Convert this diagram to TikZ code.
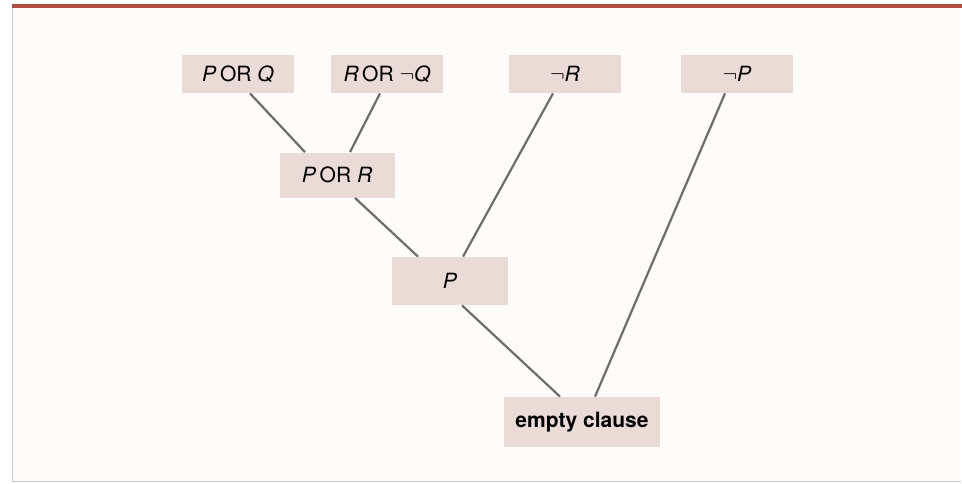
\documentclass[tikz,border=0pt]{standalone}
\usepackage{fontspec}
\setmainfont{TeX Gyre Heros}
\usetikzlibrary{calc}
\definecolor{Clause}{RGB}{234,219,215}
\definecolor{Edge}{RGB}{112,108,108}
\definecolor{Rule}{RGB}{176,78,68}
\definecolor{Frame}{RGB}{205,200,200}
\definecolor{Paper}{RGB}{254,251,251}

\begin{document}
\begin{tikzpicture}[x=0.5pt,y=-0.5pt,
    clause/.style={rectangle,fill=Clause,inner sep=0pt,
                   font=\fontsize{10.5}{12}\selectfont,
                   minimum width=56pt,minimum height=19pt},
    res/.style={line width=1.1pt,Edge}]

  \useasboundingbox (0,0) rectangle (962,483);
  \fill[Paper] (12,6) rectangle (961,481);
  \draw[Frame,line width=0.5pt] (12,6) -- (12,481) -- (961,481);
  \draw[Rule,line width=2pt] (12,6) -- (962,6);

  % given clauses
  \node[clause] (porq) at (238,74) {\textit{P}\,OR \textit{Q}};
  \node[clause] (rornq) at (387,74) {\textit{R}\,OR $\neg$\textit{Q}};
  \node[clause] (nr) at (565,74) {$\neg$\textit{R}};
  \node[clause] (np) at (737,74) {$\neg$\textit{P}};
  % resolvents
  \node[clause,minimum width=57.5pt,minimum height=22.5pt] (porr) at (337,175) {\textit{P}\,OR \textit{R}};
  \node[clause,minimum width=58pt,minimum height=24pt] (p) at (450,281) {\textit{P}};
  \node[clause,minimum width=78pt,minimum height=25pt,font=\fontsize{10.5}{12}\selectfont\bfseries] (empty) at (582,422) {empty clause};

  \draw[res] ($(porq.south)+(12,0)$) -- ($(porr.north)+(-32,0)$);
  \draw[res] ($(rornq.south)+(-7,0)$) -- ($(porr.north)+(13,0)$);
  \draw[res] ($(porr.south)+(18,0)$) -- ($(p.north)+(-32,0)$);
  \draw[res] ($(nr.south)+(-12,0)$) -- ($(p.north)+(13,0)$);
  \draw[res] ($(p.south)+(12,0)$) -- ($(empty.north)+(-22,0)$);
  \draw[res] ($(np.south)+(-12,0)$) -- ($(empty.north)+(13,0)$);
\end{tikzpicture}
\end{document}
